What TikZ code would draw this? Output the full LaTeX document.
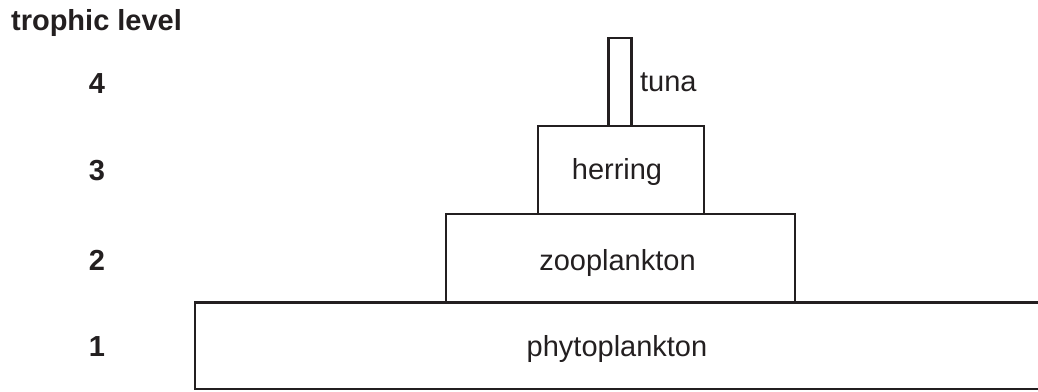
\documentclass[tikz,border=0pt]{standalone}
\usepackage{fontspec}
\setmainfont{Liberation Sans}
\definecolor{ink}{HTML}{231F20}

\begin{document}
\begin{tikzpicture}[x=0.02cm,y=-0.02cm,line width=1.3pt]
\tikzstyle{every node}+=[inner sep=0pt,text=ink,font=\fontsize{16.5}{20}\selectfont]
\tikzstyle{box}=[draw=ink,rectangle,minimum height=1.76cm]
\tikzstyle{lvl}=[anchor=base,font=\fontsize{16.5}{20}\selectfont\bfseries]
\useasboundingbox (0,0) rectangle (1038,392);
% heading and level numbers
\node [lvl,anchor=base west] (head) at (10,31) {trophic level};
\node [lvl] (n4) at (97,93) {4};
\node [lvl] (n3) at (97,180) {3};
\node [lvl] (n2) at (97,270) {2};
\node [lvl] (n1) at (97,356) {1};
% pyramid
\node [box,minimum width=0.46cm] (tuna) at (620,82) {};
\node [box,minimum width=3.32cm] (herring) at (621,170) {};
\node [box,minimum width=6.98cm] (zoo) at (620.5,258) {};
\node [anchor=base west] (tunatext) at (639,91) {tuna};
\node [anchor=base] (herringtext) at (617,179) {herring};
\node [anchor=base] (zootext) at (617.5,270) {zooplankton};
\node [anchor=base] (phyto) at (617,356) {phytoplankton};
\draw [ink] (1038,302.5) -| (195,389) -- (1038,389);
\end{tikzpicture}
\end{document}
